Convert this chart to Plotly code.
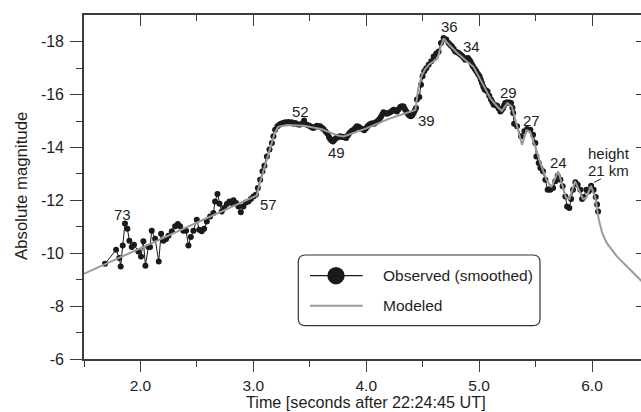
import plotly.graph_objects as go

# ---------------- data ----------------
obs_t = [1.686, 1.784, 1.813, 1.825, 1.843, 1.863, 1.884, 1.902, 1.923, 1.943, 1.981, 2.005, 2.026, 2.044,
         2.070, 2.085, 2.100, 2.130, 2.162, 2.183, 2.203, 2.227, 2.248, 2.278, 2.307, 2.331, 2.351, 2.380,
         2.404, 2.425, 2.446, 2.469, 2.499, 2.520, 2.543, 2.564, 2.588, 2.617, 2.646, 2.661, 2.682, 2.700,
         2.720, 2.741, 2.765, 2.788, 2.809, 2.824, 2.847, 2.868, 2.889, 2.912, 2.934, 2.957, 2.978, 3.001,
         3.022, 3.040, 3.060, 3.081, 3.098, 3.120, 3.143, 3.164, 3.178, 3.193, 3.214, 3.230, 3.244, 3.262,
         3.282, 3.296, 3.311, 3.326, 3.341, 3.356, 3.371, 3.390, 3.409, 3.430, 3.450, 3.474, 3.490, 3.504,
         3.520, 3.533, 3.548, 3.563, 3.578, 3.592, 3.607, 3.621, 3.640, 3.657, 3.670, 3.681, 3.693, 3.705,
         3.715, 3.725, 3.736, 3.746, 3.758, 3.770, 3.785, 3.799, 3.811, 3.823, 3.838, 3.852, 3.870, 3.888,
         3.903, 3.917, 3.932, 3.947, 3.965, 3.982, 3.997, 4.012, 4.027, 4.041, 4.056, 4.071, 4.085, 4.100,
         4.115, 4.130, 4.142, 4.153, 4.168, 4.183, 4.198, 4.213, 4.228, 4.242, 4.257, 4.272, 4.287, 4.301,
         4.316, 4.331, 4.343, 4.355, 4.365, 4.375, 4.386, 4.396, 4.408, 4.420, 4.430, 4.441, 4.449, 4.470,
         4.485, 4.499, 4.514, 4.532, 4.553, 4.576, 4.597, 4.621, 4.641, 4.662, 4.685, 4.709, 4.729, 4.745,
         4.760, 4.775, 4.789, 4.804, 4.818, 4.833, 4.848, 4.862, 4.877, 4.890, 4.901, 4.912, 4.922, 4.935,
         4.945, 4.960, 4.975, 4.990, 5.004, 5.015, 5.025, 5.037, 5.049, 5.062, 5.075, 5.090, 5.105, 5.117,
         5.129, 5.145, 5.159, 5.173, 5.188, 5.200, 5.212, 5.222, 5.232, 5.243, 5.253, 5.268, 5.283, 5.295,
         5.302, 5.310, 5.336, 5.371, 5.401, 5.425, 5.454, 5.478, 5.498, 5.507, 5.528, 5.543, 5.566, 5.587,
         5.607, 5.620, 5.631, 5.655, 5.675, 5.696, 5.720, 5.740, 5.764, 5.779, 5.799, 5.815, 5.832, 5.853,
         5.873, 5.897, 5.912, 5.926, 5.950, 5.971, 5.992, 6.015, 6.033, 6.045, 6.054]
obs_mag = [-9.60, -10.13, -9.82, -9.50, -10.29, -11.12, -10.93, -10.47, -10.24, -10.32, -10.07, -9.88, -10.45, -9.53,
           -10.24, -10.24, -10.85, -10.55, -9.69, -10.74, -10.47, -10.54, -10.66, -10.83, -11.02, -11.11, -11.02, -10.85,
           -10.85, -10.29, -10.61, -10.85, -11.27, -10.89, -10.83, -10.93, -11.20, -11.39, -11.52, -11.96, -12.24, -11.87,
           -11.58, -11.71, -11.86, -11.96, -11.90, -12.00, -11.90, -11.77, -11.55, -11.77, -11.92, -11.96, -12.05, -12.15,
           -12.21, -12.47, -12.78, -13.10, -13.31, -13.66, -13.92, -14.17, -14.42, -14.67, -14.80, -14.86, -14.90, -14.93,
           -14.95, -14.92, -14.96, -14.93, -14.95, -14.90, -14.93, -14.88, -14.86, -14.90, -15.02, -14.86, -14.83, -14.80,
           -14.76, -14.74, -14.78, -14.82, -14.79, -14.80, -14.75, -14.70, -14.60, -14.52, -14.40, -14.32, -14.26, -14.23,
           -14.28, -14.32, -14.36, -14.40, -14.41, -14.42, -14.40, -14.40, -14.38, -14.36, -14.46, -14.55, -14.62, -14.67,
           -14.74, -14.80, -14.78, -14.74, -14.70, -14.65, -14.72, -14.80, -14.86, -14.90, -14.92, -14.90, -14.95, -14.99,
           -15.07, -15.15, -15.25, -15.33, -15.30, -15.28, -15.30, -15.33, -15.38, -15.43, -15.40, -15.36, -15.45, -15.53,
           -15.56, -15.55, -15.45, -15.36, -15.30, -15.24, -15.20, -15.18, -15.22, -15.30, -15.40, -15.49, -15.81, -15.91,
           -16.37, -16.69, -16.88, -17.00, -17.13, -17.26, -17.44, -17.55, -17.63, -17.95, -18.14, -18.08, -17.95, -17.88,
           -17.82, -17.72, -17.63, -17.60, -17.57, -17.52, -17.47, -17.40, -17.32, -17.36, -17.38, -17.32, -17.26, -17.16,
           -17.07, -16.98, -16.88, -16.78, -16.69, -16.56, -16.44, -16.30, -16.19, -16.15, -16.12, -15.96, -15.81, -15.72,
           -15.62, -15.60, -15.58, -15.47, -15.36, -15.42, -15.49, -15.60, -15.68, -15.70, -15.70, -15.70, -15.68, -15.50,
           -15.30, -14.90, -14.80, -14.42, -14.61, -14.70, -14.67, -14.48, -14.17, -13.66, -13.41, -13.22, -13.10, -12.78,
           -12.40, -12.42, -12.40, -12.47, -12.72, -12.93, -12.78, -12.53, -12.15, -11.77, -11.71, -12.05, -12.40, -12.68,
           -12.59, -12.40, -12.05, -12.13, -12.40, -12.34, -12.55, -12.40, -12.13, -11.84, -11.58]

model_t = [1.40, 3.00, 3.03, 3.06, 3.10, 3.15, 3.19, 3.22, 3.30, 3.45, 3.60, 3.75, 3.80, 4.00, 4.20, 4.435,
           4.46, 4.49, 4.52, 4.56, 4.63, 4.66, 4.685, 4.72, 4.80, 4.88, 4.95, 5.02, 5.10, 5.16, 5.20, 5.25,
           5.29, 5.33, 5.38, 5.42, 5.45, 5.50, 5.55, 5.60, 5.64, 5.70, 5.77, 5.80, 5.85, 5.92, 5.95, 5.99,
           6.03, 6.06, 6.09, 6.13, 6.22, 6.31, 6.45]
model_mag = [-9.03, -12.10, -12.18, -12.70, -13.30, -14.00, -14.55, -14.78, -14.85, -14.82, -14.70, -14.45, -14.42,
             -14.72, -15.08, -15.42, -16.20, -16.70, -16.95, -17.15, -17.35, -17.80, -18.12, -17.95, -17.60, -17.30,
             -17.05, -16.50, -15.85, -15.55, -15.38, -15.68, -15.55, -14.90, -14.10, -14.65, -14.60, -14.00, -13.30,
             -12.75, -12.50, -13.10, -12.10, -12.05, -12.72, -12.05, -12.10, -12.55, -12.10, -11.27, -10.77, -10.39,
             -9.88, -9.50, -8.90]

peak_labels = ["73", "57", "52", "49", "39", "36", "34", "29", "27", "24"]
peak_label_t = [1.837, 3.131, 3.414, 3.740, 4.531, 4.738, 4.936, 5.260, 5.468, 5.704]
peak_label_mag = [-11.46, -11.84, -15.36, -13.81, -15.02, -18.56, -17.80, -16.08, -15.01, -13.45]

y_tickvals = [-6, -8, -10, -12, -14, -16, -18]
y_ticktext = ["-6", "-8", "-10", "-12", "-14", "-16", "-18"]
x_tickvals = [2, 3, 4, 5, 6]
x_ticktext = ["2.0", "3.0", "4.0", "5.0", "6.0"]

# ---------------- layout geometry ----------------
W, H = 641, 412
ML, MR, MT, MB = 84, 0, 15, 53
PW, PH = W - ML - MR, H - MT - MB
XR = [1.5, 6.434]
YR = [-6, -19.01]
FONT = "Liberation Sans, Arial, Helvetica, sans-serif"
TXT = "#1e1e1e"
AX = "#3c3c3c"


def px(xp):
    return (xp - ML) / PW


def py(yp):
    return (H - MB - yp) / PH


fig = go.Figure()

fig.add_trace(go.Scatter(
    x=obs_t, y=obs_mag, mode="lines+markers",
    line=dict(color="#1a1a1a", width=1),
    marker=dict(color="#1a1a1a", size=6),
    name="Observed (smoothed)", showlegend=False, hoverinfo="skip"))

fig.add_trace(go.Scatter(
    x=model_t, y=model_mag, mode="lines",
    line=dict(color="#9a9a9a", width=2),
    name="Modeled", showlegend=False, hoverinfo="skip"))

# empty trace to activate mirrored axes
fig.add_trace(go.Scatter(x=[None], y=[None], xaxis="x2", yaxis="y2",
                         showlegend=False, hoverinfo="skip"))

annotations = []
for lab, t, m in zip(peak_labels, peak_label_t, peak_label_mag):
    annotations.append(dict(x=t, y=m, xref="x", yref="y", text=lab, showarrow=False,
                            font=dict(size=15, color=TXT, family=FONT),
                            xanchor="center", yanchor="middle"))
annotations.append(dict(x=6.147, y=-13.79, xref="x", yref="y", text="height", showarrow=False,
                        font=dict(size=15, color=TXT, family=FONT), xanchor="center", yanchor="middle"))
annotations.append(dict(x=6.147, y=-13.12, xref="x", yref="y", text="21 km", showarrow=False,
                        font=dict(size=15, color=TXT, family=FONT), xanchor="center", yanchor="middle"))

# axis titles
annotations.append(dict(x=px(366), y=py(412), xref="paper", yref="paper",
                        text="Time [seconds after 22:24:45 UT]", showarrow=False,
                        font=dict(size=16.2, color=TXT, family=FONT), xanchor="center", yanchor="bottom",
                        borderpad=0))
annotations.append(dict(x=px(21), y=py(186), xref="paper", yref="paper",
                        text="Absolute magnitude", showarrow=False, textangle=-90,
                        font=dict(size=16.8, color=TXT, family=FONT), xanchor="center", yanchor="middle"))

# legend texts
annotations.append(dict(x=px(380.5), y=py(275.7), xref="paper", yref="paper",
                        text="Observed (smoothed)", showarrow=False,
                        font=dict(size=15.5, color=TXT, family=FONT), xanchor="left", yanchor="middle"))
annotations.append(dict(x=px(380.5), y=py(305.7), xref="paper", yref="paper",
                        text="Modeled", showarrow=False,
                        font=dict(size=15.5, color=TXT, family=FONT), xanchor="left", yanchor="middle"))

shapes = []
# leader line for height label
shapes.append(dict(type="line", xref="x", yref="y", x0=6.020, y0=-12.68, x1=6.079, y1=-12.81,
                   line=dict(color=TXT, width=1)))

# legend rounded box
L, T, R, B, r = 298.3, 255, 540, 325.7, 7
path = (f"M {px(L + r)},{py(T)} L {px(R - r)},{py(T)} Q {px(R)},{py(T)} {px(R)},{py(T + r)} "
        f"L {px(R)},{py(B - r)} Q {px(R)},{py(B)} {px(R - r)},{py(B)} "
        f"L {px(L + r)},{py(B)} Q {px(L)},{py(B)} {px(L)},{py(B - r)} "
        f"L {px(L)},{py(T + r)} Q {px(L)},{py(T)} {px(L + r)},{py(T)} Z")
shapes.append(dict(type="path", xref="paper", yref="paper", path=path,
                   line=dict(color="#333333", width=1.2), fillcolor="white", layer="above"))
shapes.append(dict(type="line", xref="paper", yref="paper", x0=px(310), y0=py(275.7), x1=px(362.7),
                   y1=py(275.7), line=dict(color="#1a1a1a", width=1.2)))
cr = 8.7
shapes.append(dict(type="circle", xref="paper", yref="paper", x0=px(336 - cr), y0=py(275.7 + cr),
                   x1=px(336 + cr), y1=py(275.7 - cr), fillcolor="#1a1a1a", line=dict(color="#1a1a1a", width=0)))
shapes.append(dict(type="line", xref="paper", yref="paper", x0=px(310), y0=py(305.7), x1=px(362.7),
                   y1=py(305.7), line=dict(color="#9a9a9a", width=2)))

fig.update_layout(
    width=W, height=H,
    margin=dict(l=ML, r=MR, t=MT, b=MB, pad=0),
    paper_bgcolor="white", plot_bgcolor="white",
    font=dict(family=FONT, size=15, color=TXT),
    showlegend=False,
    xaxis=dict(range=XR, showgrid=False, zeroline=False,
               showline=True, linecolor=AX, linewidth=1.6,
               ticks="outside", ticklen=11, tickwidth=1.3, tickcolor=AX,
               tickvals=x_tickvals, ticktext=x_ticktext,
               tickfont=dict(size=15.5, color=TXT, family=FONT),
               ticklabelstandoff=1,
               minor=dict(ticks="outside", ticklen=6, tickwidth=1.3, tickcolor=AX,
                          tickvals=[1.5, 2.5, 3.5, 4.5, 5.5]),
               fixedrange=True),
    yaxis=dict(range=YR, showgrid=False, zeroline=False,
               showline=True, linecolor=AX, linewidth=1.6,
               ticks="outside", ticklen=12, tickwidth=1.3, tickcolor=AX,
               tickvals=y_tickvals, ticktext=y_ticktext,
               tickfont=dict(size=16, color=TXT, family=FONT),
               ticklabelstandoff=3,
               minor=dict(ticks="outside", ticklen=6, tickwidth=1.3, tickcolor=AX,
                          tickvals=[-7, -9, -11, -13, -15, -17]),
               fixedrange=True),
    xaxis2=dict(range=XR, overlaying="x", side="top", anchor="y2", showgrid=False, zeroline=False,
                showline=True, linecolor=AX, linewidth=1.6,
                ticks="inside", ticklen=11, tickwidth=1.3, tickcolor=AX,
                tickvals=x_tickvals, showticklabels=False,
                minor=dict(ticks="inside", ticklen=6, tickwidth=1.3, tickcolor=AX,
                           tickvals=[1.5, 2.5, 3.5, 4.5, 5.5]),
                fixedrange=True),
    yaxis2=dict(range=YR, overlaying="y", side="right", anchor="x2", showgrid=False, zeroline=False,
                showline=False, ticks="inside", ticklen=5, tickwidth=1.3, tickcolor=AX,
                tickvals=y_tickvals, showticklabels=False, fixedrange=True),
    annotations=annotations,
    shapes=shapes,
)

fig.write_html("out.html", config={"displayModeBar": False})
